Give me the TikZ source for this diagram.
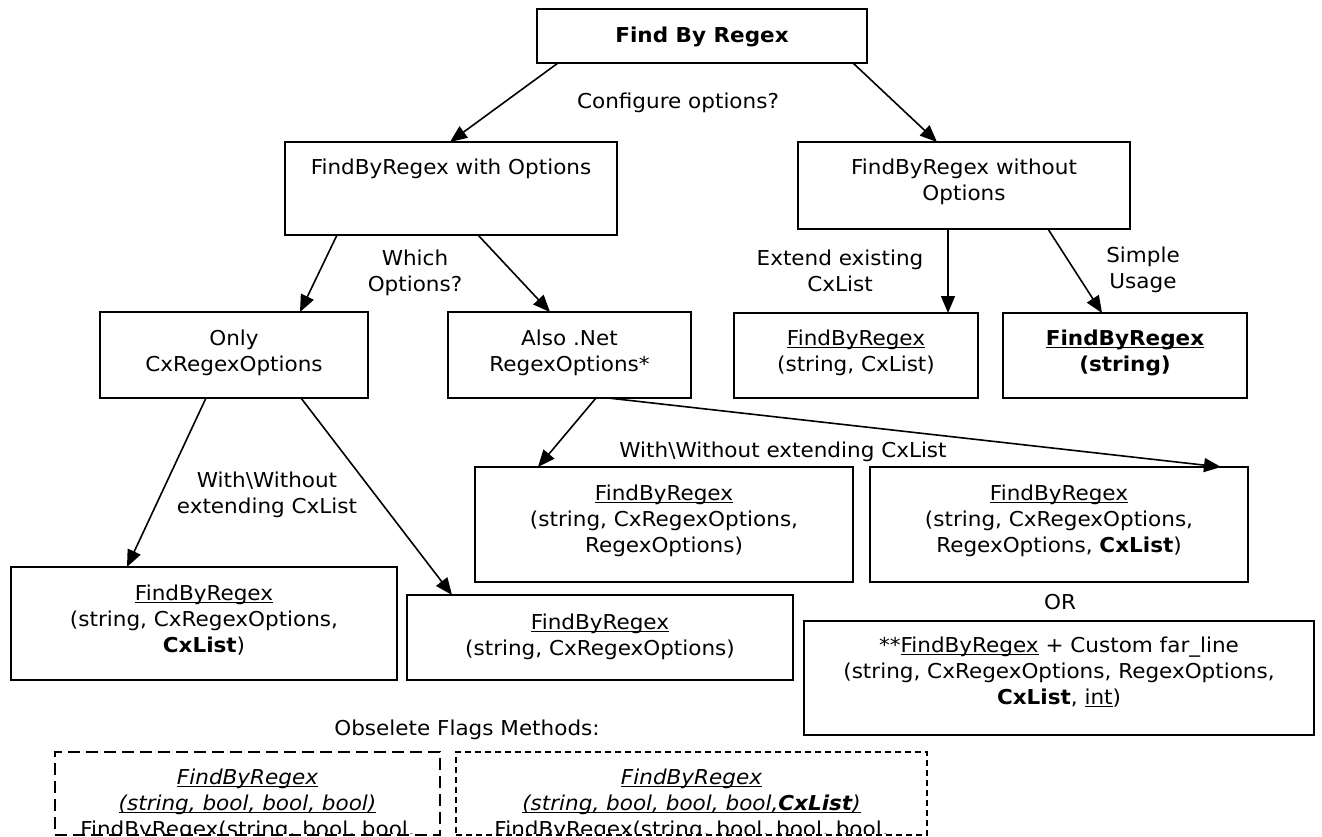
\documentclass[tikz,border=0pt]{standalone}
\usepackage{fontspec}
\setmainfont{DejaVu Sans}[FakeStretch=1.05]
\usetikzlibrary{arrows.meta}
\newcommand\myul[1]{\setbox0\hbox{#1}\rlap{\rule[-3.3pt]{\wd0}{1.3pt}}\box0\relax}
\begin{document}
\begin{tikzpicture}[x=1pt, y=-1pt,
  font=\fontsize{20.5}{26}\selectfont,
  box/.style={draw, line width=2pt, inner sep=0pt, outer sep=0pt, rectangle},
  dboxa/.style={draw, line width=1.8pt, dash pattern=on 12pt off 6pt, inner sep=0pt, outer sep=0pt, rectangle},
  dboxb/.style={draw, line width=1.8pt, dash pattern=on 6pt off 4pt, inner sep=0pt, outer sep=0pt, rectangle},
  txt/.style={align=center, inner sep=0pt, anchor=base},
  arr/.style={line width=1.6pt, -{Triangle[length=17pt,width=14pt]}}]
\useasboundingbox (0,0) rectangle (1322,836);

% boxes
\node[box, minimum width=330pt, minimum height=54pt] (top) at (702,36) {};
\node[box, minimum width=332pt, minimum height=93pt] (withopt) at (451,188.5) {};
\node[box, minimum width=332pt, minimum height=87pt] (without) at (964,185.5) {};
\node[box, minimum width=268pt, minimum height=86pt] (only) at (234,355) {};
\node[box, minimum width=243pt, minimum height=86pt] (also) at (569.5,355) {};
\node[box, minimum width=244pt, minimum height=85pt] (extend) at (856,355.5) {};
\node[box, minimum width=244pt, minimum height=85pt] (simple) at (1125,355.5) {};
\node[box, minimum width=378pt, minimum height=115pt] (rfa) at (664,524.5) {};
\node[box, minimum width=378pt, minimum height=115pt] (rfb) at (1059,524.5) {};
\node[box, minimum width=386pt, minimum height=113pt] (lb) at (204,623.5) {};
\node[box, minimum width=386pt, minimum height=85pt] (mb) at (600,637.5) {};
\node[box, minimum width=510pt, minimum height=114pt] (rb) at (1059,678) {};
\node[dboxa, minimum width=385pt, minimum height=83pt] (da) at (247.5,793.5) {};
\node[dboxb, minimum width=471pt, minimum height=83pt] (db) at (691.5,793.5) {};

% box texts (anchor = baseline of the last line)
\node[txt] (top-t) at (702,42) {\textbf{Find By Regex}};
\node[txt] (withopt-t) at (451,174) {FindByRegex with Options};
\node[txt] (without-t) at (964,200) {FindByRegex without\\Options};
\node[txt] (only-t) at (234,371) {Only\\CxRegexOptions};
\node[txt] (also-t) at (569.5,371) {Also .Net\\RegexOptions*};
\node[txt] (extend-t) at (856,371) {\myul{FindByRegex}\\(string, CxList)};
\node[txt] (simple-t) at (1125,371) {\textbf{\myul{FindByRegex}}\\\textbf{(string)}};
\node[txt] (rfa-t) at (664,552) {\myul{FindByRegex}\\(string, CxRegexOptions,\\RegexOptions)};
\node[txt] (rfb-t) at (1059,552) {\myul{FindByRegex}\\(string, CxRegexOptions,\\RegexOptions, \textbf{CxList})};
\node[txt] (lb-t) at (204,652) {\myul{FindByRegex}\\(string, CxRegexOptions,\\\textbf{CxList})};
\node[txt] (mb-t) at (600,655) {\myul{FindByRegex}\\(string, CxRegexOptions)};
\node[txt] (rb-t) at (1059,704) {**\myul{FindByRegex} + Custom far\_line\\(string, CxRegexOptions, RegexOptions,\\\textbf{CxList}, \myul{int})};
\begin{scope}
\clip (55,752) rectangle (927,833);
\node[txt] (da-t) at (247.5,836) {\textit{\myul{FindByRegex}}\\\textit{\myul{(string, bool, bool, bool)}}\\FindByRegex(string, bool, bool,};
\node[txt] (db-t) at (691.5,836) {\textit{\myul{FindByRegex}}\\\textit{\myul{(string, bool, bool, bool,\textbf{CxList})}}\\FindByRegex(string, bool, bool, bool,};
\end{scope}

% free labels
\node[txt] (l-conf) at (678,108) {Configure options?};
\node[txt] (l-which) at (415,291) {Which\\Options?};
\node[txt] (l-ext) at (840,291) {Extend existing\\CxList};
\node[txt] (l-simple) at (1143,288) {Simple\\Usage};
\node[txt] (l-with1) at (267,513) {With\textbackslash Without\\extending CxList};
\node[txt] (l-with2) at (783,457) {With\textbackslash Without extending CxList};
\node[txt] (l-or) at (1060,609) {OR};
\node[txt] (l-obs) at (467,735) {Obselete Flags Methods:};

% connectors
\draw[arr] ([xshift=21pt]top.south west) -- ([xshift=165pt]withopt.north west);
\draw[arr] ([xshift=-14pt]top.south east) -- ([xshift=139pt]without.north west);
\draw[arr] ([xshift=52pt]withopt.south west) -- ([xshift=200pt]only.north west);
\draw[arr] ([xshift=193pt]withopt.south west) -- ([xshift=102pt]also.north west);
\draw[arr] ([xshift=150pt]without.south west) -- ([xshift=214pt]extend.north west);
\draw[arr] ([xshift=250pt]without.south west) -- ([xshift=99pt]simple.north west);
\draw[arr] ([xshift=106pt]only.south west) -- ([xshift=116pt]lb.north west);
\draw[arr] ([xshift=201pt]only.south west) -- ([xshift=45pt]mb.north west);
\draw[arr] ([xshift=148pt]also.south west) -- ([xshift=63pt]rfa.north west);
\draw[arr] ([xshift=160pt]also.south west) -- ([xshift=351pt]rfb.north west);
\end{tikzpicture}
\end{document}
